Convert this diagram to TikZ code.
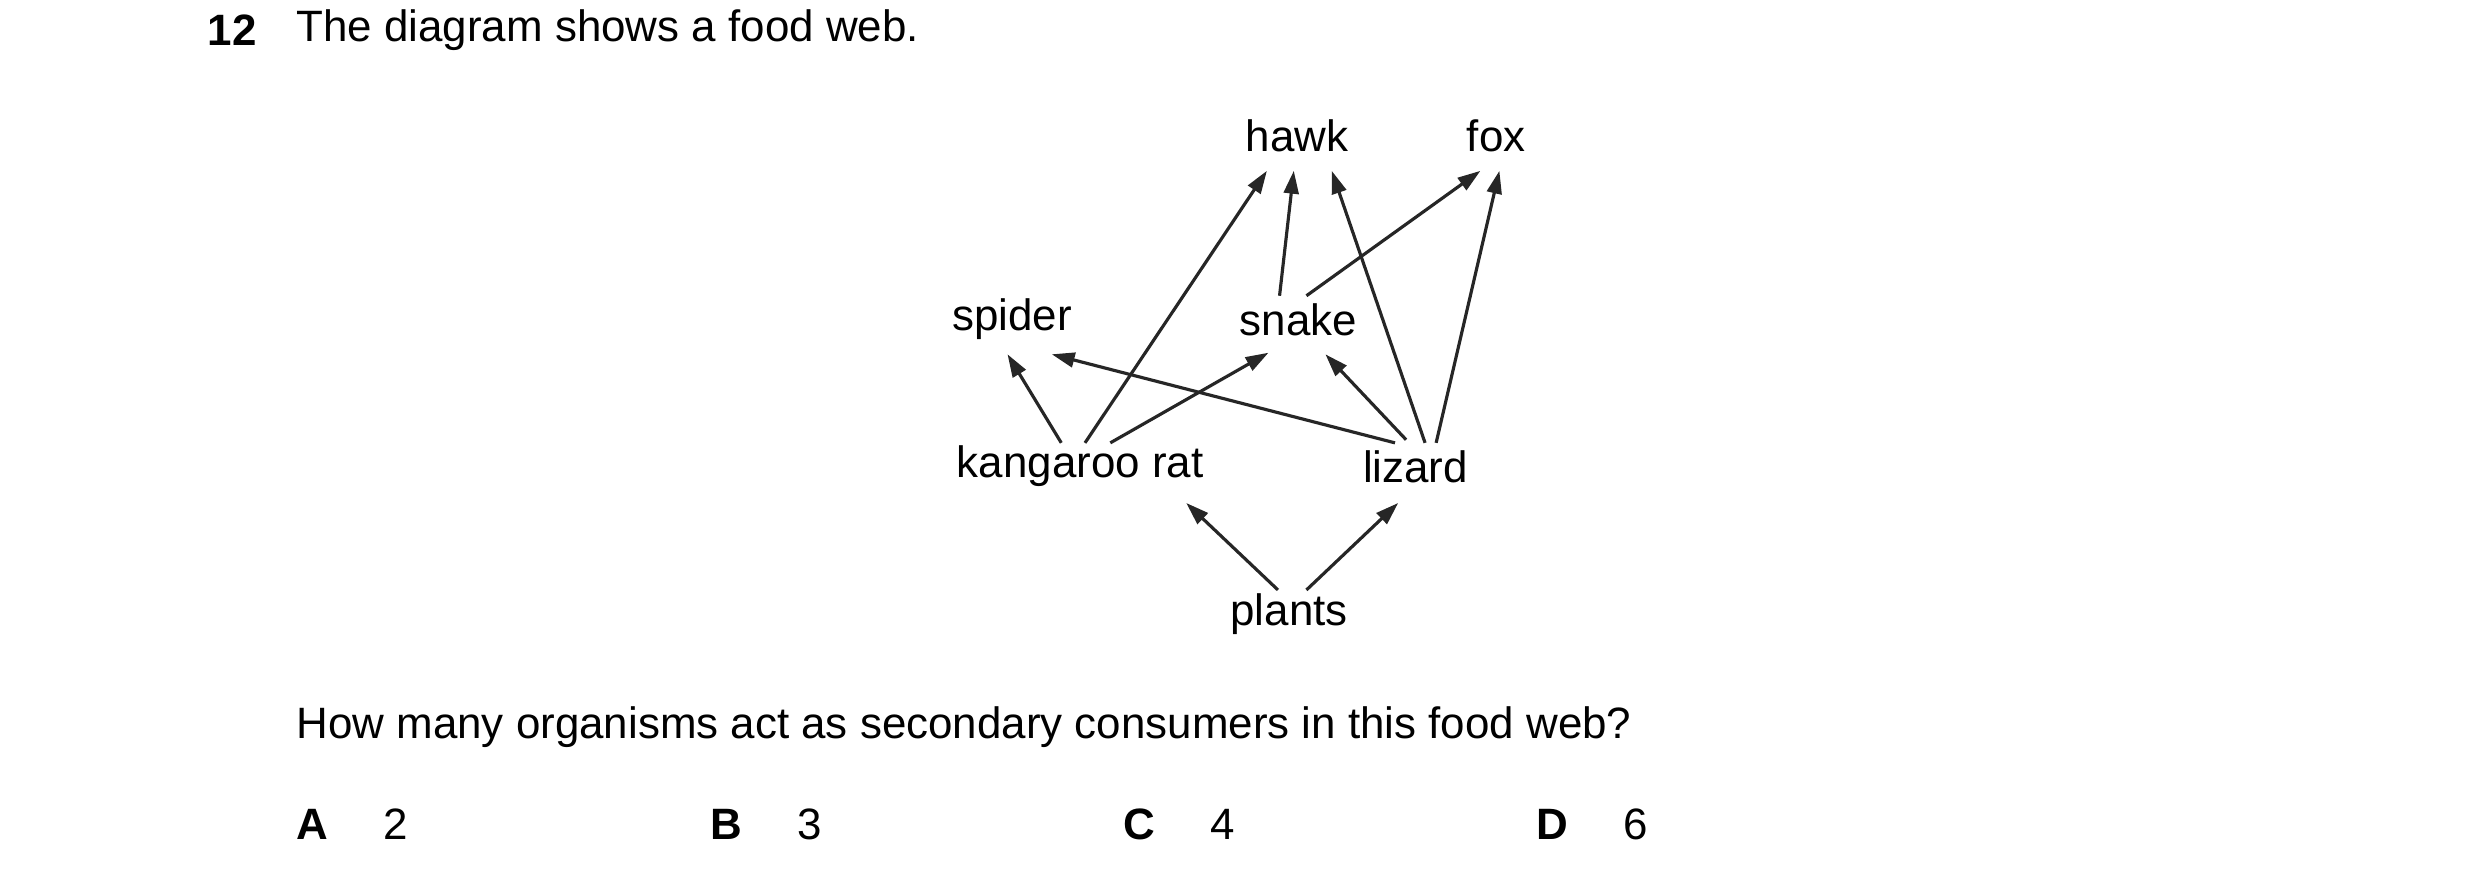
\documentclass[tikz,border=0pt]{standalone}
\usepackage{fontspec}
\setmainfont{Liberation Sans}
\usetikzlibrary{arrows.meta}
\begin{document}
\begin{tikzpicture}[x=0.015816cm,y=-0.015816cm,
		every node/.style={font=\fontsize{12.5}{15}\selectfont, inner sep=0pt},
		arr/.style={-{Triangle[length=6.5pt,width=4.2pt]}, line width=0.9pt, draw=black!85}]
		\useasboundingbox (0,0) rectangle (1568,557);
		
		% Question text
		\node[anchor=west] (num) at (131,19) {\textbf{12}};
		\node[anchor=west] (title) at (187,19) {The diagram shows a food web.};
		
		% Organisms
		\node (hawk) at (820,86) {hawk};
		\node (fox) at (946,86) {fox};
		\node (spider) at (640,202) {spider};
		\node (snake) at (821,202) {snake};
		\node (krat) at (683,295) {kangaroo rat};
		\node (lizard) at (895,295) {lizard};
		\node (plants) at (815,388) {plants};
		
		% Feeding arrows
		\draw[arr] (808,373) -- (750,318);
		\draw[arr] (826,373) -- (884,318);
		\draw[arr] (671,280) -- (637,224);
		\draw[arr] (686,280) -- (801,108);
		\draw[arr] (702,280) -- (802,223);
		\draw[arr] (882,280) -- (665,224);
		\draw[arr] (889,278) -- (838,224);
		\draw[arr] (901,280) -- (842,108);
		\draw[arr] (908,280) -- (948,108);
		\draw[arr] (809,187) -- (818,108);
		\draw[arr] (826,187) -- (936,108);
		
		% Question and options
		\node[anchor=west] (question) at (187,460) {How many organisms act as secondary consumers in this food web?};
		\node[anchor=west] (optA) at (187,521) {\textbf{A}};
		\node[anchor=west] (valA) at (242,521) {2};
		\node[anchor=west] (optB) at (449,521) {\textbf{B}};
		\node[anchor=west] (valB) at (504,521) {3};
		\node[anchor=west] (optC) at (710,521) {\textbf{C}};
		\node[anchor=west] (valC) at (765,521) {4};
		\node[anchor=west] (optD) at (971,521) {\textbf{D}};
		\node[anchor=west] (valD) at (1026,521) {6};
\end{tikzpicture}
\end{document}
